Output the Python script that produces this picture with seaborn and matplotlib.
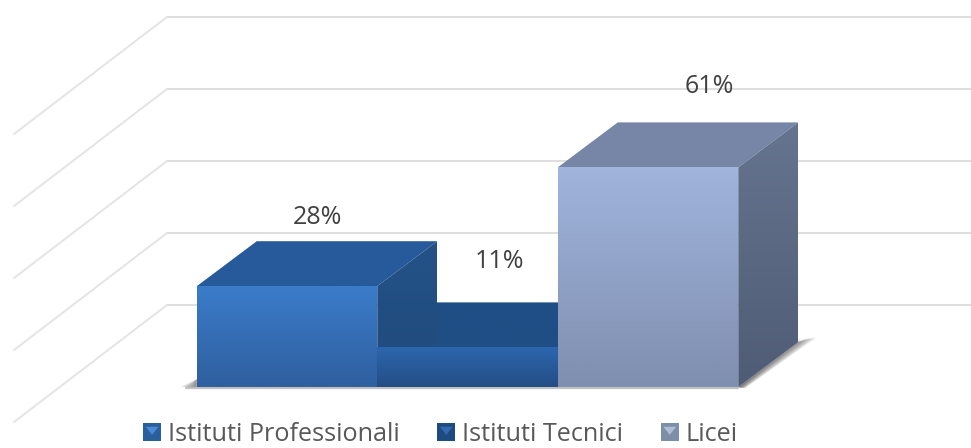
import matplotlib.pyplot as plt
import numpy as np
import pandas as pd
import seaborn as sns
from matplotlib.colors import LinearSegmentedColormap
from matplotlib.legend_handler import HandlerPatch
from matplotlib.patches import Patch, Polygon, Rectangle

categories = ['Istituti Professionali', 'Istituti Tecnici', 'Licei']
shares = [28, 11, 61]
labels = ['28%', '11%', '61%']
grid_values = [20, 40, 60, 80, 100]

# colours per bar: front top/bottom, roof, side top/bottom
front_top = ['#3b7cca', '#2d66ae', '#a0b4dc']
front_bottom = ['#2f5f9f', '#234d85', '#7f8fb0']
roof_colors = ['#275a9b', '#1f4e85', '#7786a6']
side_top = ['#245288', '#204a7e', '#65748f']
side_bottom = ['#1f4a7c', '#1f4a7c', '#505c75']
legend_colors = ['#2a5f9e', '#1d4a80', '#7f8ea8']
legend_light = ['#4a88cf', '#3268b0', '#aebcd4']

W, H = 971, 448
PX_CAT = 180.5    # pixels per bar
PX_PCT = 3.6      # pixels per percent
DEPTH_X = 60 / PX_CAT
DEPTH_Y = 45 / PX_PCT
WALL_LIFT = 10 / PX_PCT
WALL_X = (167 - 287) / PX_CAT
DIAG_X = 153 / PX_CAT
DIAG_Y = 117 / PX_PCT

sns.set_theme(style='white')
plt.rcParams['font.family'] = ['Open Sans', 'DejaVu Sans']

fig = plt.figure(figsize=(W / 100, H / 100), dpi=100)
ax = fig.add_axes([0, 0, 1, 1])

df = pd.DataFrame({'tipo': categories, 'quota': shares})
sns.barplot(data=df, x='tipo', y='quota', hue='tipo', palette=legend_colors,
            width=1, legend=False, saturation=1, linewidth=0, ax=ax, zorder=2)
bars = list(ax.patches)


def gradient_fill(xs, ys, top, bottom, zorder):
    cmap = LinearSegmentedColormap.from_list('g', [top, bottom])
    grad = np.linspace(0, 1, 64).reshape(-1, 1)
    im = ax.imshow(grad, cmap=cmap, aspect='auto', zorder=zorder,
                   interpolation='bilinear',
                   extent=(min(xs), max(xs), min(ys), max(ys)))
    poly = Polygon(list(zip(xs, ys)), closed=True, transform=ax.transData,
                   fc='none', ec='none')
    im.set_clip_path(poly)


class SwatchHandler(HandlerPatch):
    # square with the small lighter wedge the chart legend has
    def create_artists(self, legend, orig, xd, yd, width, height, fontsize, trans):
        light = legend_light[legend_colors.index(orig.get_gid())]
        outer = Rectangle((-xd, -yd), width, height, fc=orig.get_gid(), ec='none',
                          transform=trans)
        inner = Polygon([(-xd + width * 0.15, -yd + height * 0.8),
                         (-xd + width * 0.85, -yd + height * 0.8),
                         (-xd + width * 0.5, -yd + height * 0.35)],
                        fc=light, ec='none', transform=trans)
        return [outer, inner]


# back wall lines, one flat part and one running towards the viewer
for v in grid_values:
    y = v + WALL_LIFT
    ax.plot([WALL_X, 3.79], [y, y], color='#dedede', lw=1.4, zorder=1)
    ax.plot([WALL_X, WALL_X - DIAG_X], [y, y - DIAG_Y], color='#e4e4e4',
            lw=1.4, zorder=1)

# soft floor shadow, built from many faint layers
for grow in np.linspace(0.01, 0.1, 12):
    ax.fill([2.5, 2.5 + DEPTH_X, 2.5 + DEPTH_X + grow, 2.5 + grow * 0.4],
            [0, DEPTH_Y, DEPTH_Y + 1.2, -0.3], color='#444444', alpha=0.09,
            lw=0, zorder=1.5)
for left in np.linspace(0.01, 0.09, 8):
    ax.fill([-0.5 - left, -0.5, -0.5], [0, 2.2, 0], color='#444444', alpha=0.1,
            lw=0, zorder=1.5)
ax.plot([-0.56, 2.5], [-0.4, -0.4], color='#999999', lw=1.6, alpha=0.6, zorder=1.5)

# 3d faces, the middle bar goes behind its neighbours
for i, bar in enumerate(bars):
    x0, x1 = bar.get_x(), bar.get_x() + bar.get_width()
    v = bar.get_height()
    z = 2 if i == 1 else 2.5
    gradient_fill([x0, x1, x1 + DEPTH_X, x0 + DEPTH_X],
                  [v, v, v + DEPTH_Y, v + DEPTH_Y],
                  roof_colors[i], roof_colors[i], z)
    gradient_fill([x1, x1 + DEPTH_X, x1 + DEPTH_X, x1],
                  [0, DEPTH_Y, v + DEPTH_Y, v],
                  side_top[i], side_bottom[i], z)
    gradient_fill([x0, x1, x1, x0], [0, 0, v, v],
                  front_top[i], front_bottom[i], 3)

label_x = [0.169, 1.175, 2.34]
label_y = [47, 35, 83.4]
for t, lx, ly in zip(labels, label_x, label_y):
    ax.text(lx, ly, t, ha='center', va='center', fontsize=18, color='#404040',
            zorder=5)

handles = [Patch(gid=c, label=n) for c, n in zip(legend_colors, categories)]
ax.legend(handles=handles, ncol=3, loc='lower left', frameon=False,
          handler_map={Patch: SwatchHandler()},
          bbox_to_anchor=(143 / W, 1 / H), fontsize=18.2, labelcolor='#595959',
          handlelength=0.72, handleheight=0.72, handletextpad=0.25,
          columnspacing=1.5, borderaxespad=0, borderpad=0)

ax.set_xlim((0 - 287) / PX_CAT, (W - 287) / PX_CAT)
ax.set_ylim((387 - H) / PX_PCT, 387 / PX_PCT)
ax.set_axis_off()
fig.savefig('out.png', dpi=100)
